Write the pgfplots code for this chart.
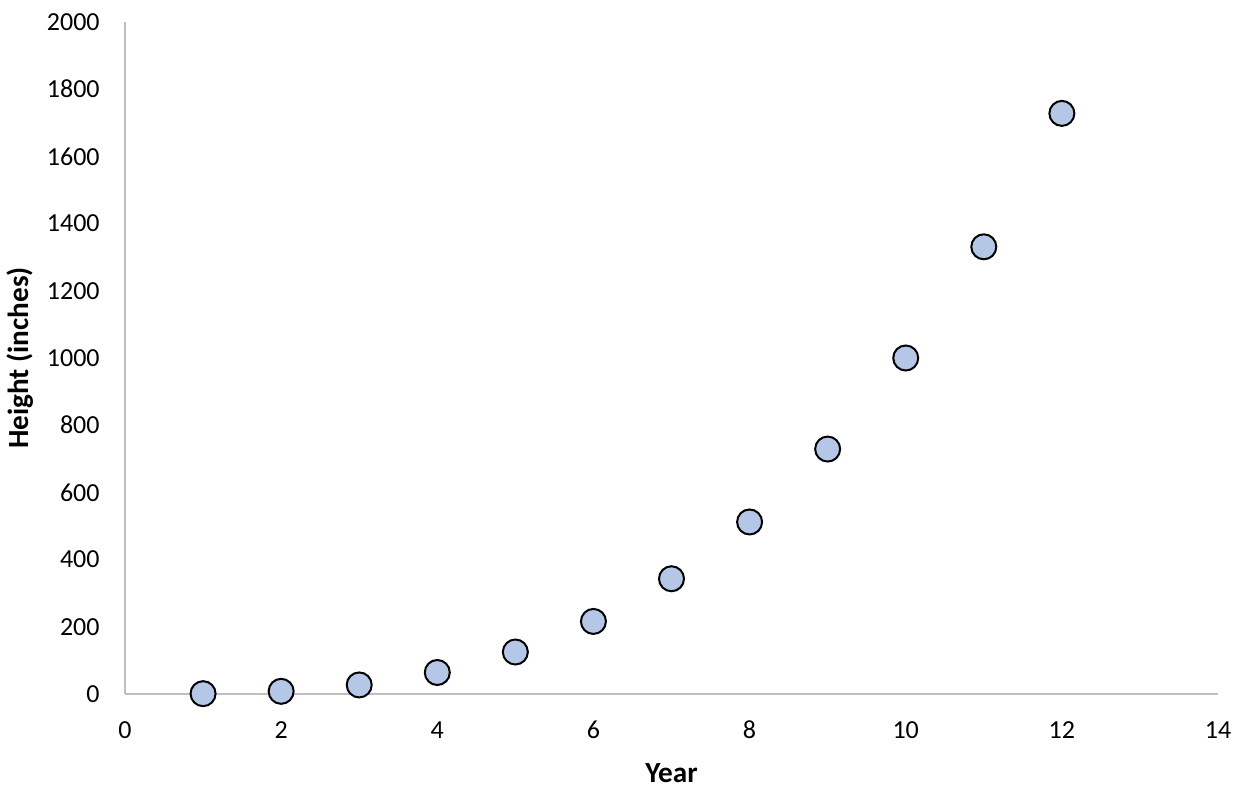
\documentclass[border=0pt]{standalone}
\usepackage{fontspec}
\setmainfont{Carlito}
\usepackage{pgfplots}
\pgfplotsset{compat=1.18}
\definecolor{ptfill}{HTML}{B4C7E7}
\definecolor{axgray}{HTML}{BFBFBF}
\begin{document}
\begin{tikzpicture}
\begin{axis}[
  scale only axis,
  width=546.5pt, height=336pt,
  xmin=0, xmax=14, ymin=0, ymax=2000,
  xtick={0,2,...,14}, ytick={0,200,...,2000},
  axis x line*=bottom, axis y line*=left,
  axis line style={axgray, line width=0.75pt},
  x axis line style={-}, y axis line style={-},
  major tick length=0pt,
  font=\fontsize{13}{15}\selectfont,
  /pgf/number format/assume math mode=true,
  /pgf/number format/1000 sep={},
  xticklabel style={anchor=center, inner sep=0pt, yshift=-18pt},
  yticklabel style={anchor=east, inner sep=0pt, xshift=-12.5pt},
  xlabel={\textbf{Year}}, ylabel={\textbf{Height (inches)}},
  every axis x label/.style={at={(rel axis cs:0.5,0)}, anchor=center, yshift=-39.5pt, font=\fontsize{14.6}{17}\selectfont},
  every axis y label/.style={at={(rel axis cs:0,0.5)}, anchor=center, xshift=-52.5pt, rotate=90, font=\fontsize{14.6}{17}\selectfont},
  clip=false,
]
\addplot[only marks, mark=*, mark size=6.25pt, mark options={fill=ptfill, draw=black, line width=1pt}]
  coordinates {(1,1) (2,8) (3,27) (4,64) (5,125) (6,216) (7,343) (8,512) (9,729) (10,1000) (11,1331) (12,1728)};
\coordinate (o) at (rel axis cs:0,0);
\coordinate (t) at (rel axis cs:1,1);
\end{axis}
\pgfresetboundingbox
\path[use as bounding box] ([xshift=-62.5pt,yshift=-51.5pt]o) rectangle ([xshift=10.5pt,yshift=11pt]t);
\end{tikzpicture}
\end{document}
